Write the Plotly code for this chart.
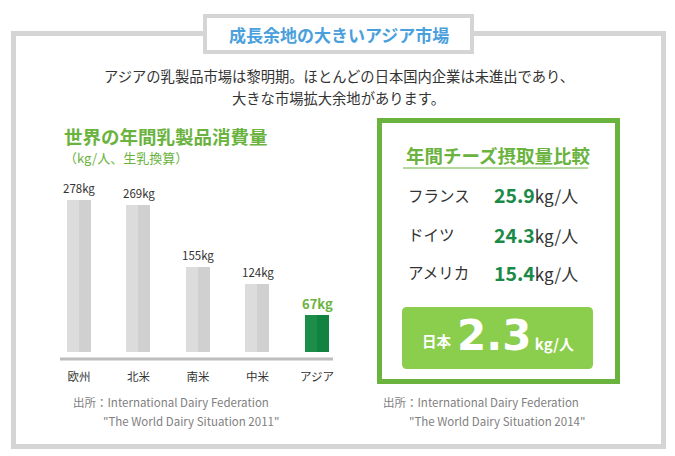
import plotly.graph_objects as go

# ---------------- data ----------------
regions = ["欧州", "北米", "南米", "中米", "アジア"]
consumption = [278, 269, 155, 124, 67]
consumption_labels = ["278kg", "269kg", "155kg", "124kg", "67kg"]

cheese_countries = ["フランス", "ドイツ", "アメリカ"]
cheese_values = [25.9, 24.3, 15.4]
japan_value = 2.3

W, H = 675, 456
FONT = "Noto Sans CJK JP"
GREEN = "#6ab33e"
DKGREEN = "#1b8a47"
LTGREEN = "#8bcd4d"
GRAY_FRAME = "#d5d5d5"
BLUE = "#4aa0dc"


def px(x):
    return x / W


def py(y):
    return 1 - y / H


fig = go.Figure()

# two-tone bars: full bar (light) + right half (darker)
light = ["#dcdcdc"] * 4 + ["#1c8e49"]
dark = ["#d0d0d0"] * 4 + ["#128240"]
fig.add_trace(go.Bar(x=regions, y=consumption, width=0.40, offset=-0.20,
                     marker=dict(color=light, line=dict(width=0)),
                     hoverinfo="skip", showlegend=False))
fig.add_trace(go.Bar(x=regions, y=consumption, width=0.20, offset=0.0,
                     marker=dict(color=dark, line=dict(width=0)),
                     hoverinfo="skip", showlegend=False))

# value labels above bars
for i, (r, v, lab) in enumerate(zip(regions, consumption, consumption_labels)):
    is_asia = (r == "アジア")
    fig.add_annotation(x=r, y=v, xref="x", yref="y", text=("<b>%s</b>" % lab) if is_asia else lab,
                       showarrow=False, yanchor="middle", yshift=12,
                       font=dict(family=FONT, size=13 if is_asia else 11.5,
                                 color=GREEN if is_asia else "#333333"))

# bar area domain: centers at 79..317 px, slot 59.5 px; y=0 at 352px, scale 0.547 px/unit
x_dom = [px(49.25), px(346.75)]
y_dom = [py(352), py(180)]
yr_max = (352 - 180) / 0.547

shapes = []
# outer gray frame
shapes.append(dict(type="rect", xref="paper", yref="paper",
                   x0=px(13.5), x1=px(663.5), y0=py(446.5), y1=py(33.5),
                   line=dict(color=GRAY_FRAME, width=5), fillcolor="rgba(0,0,0,0)", layer="below"))
# title box
shapes.append(dict(type="rect", xref="paper", yref="paper",
                   x0=px(205), x1=px(472), y0=py(52), y1=py(16),
                   line=dict(color=GRAY_FRAME, width=4), fillcolor="white", layer="below"))
# bar baseline
shapes.append(dict(type="line", xref="paper", yref="paper",
                   x0=px(60), x1=px(333), y0=py(359), y1=py(359),
                   line=dict(color="#bdbdbd", width=3)))
# right green box
shapes.append(dict(type="rect", xref="paper", yref="paper",
                   x0=px(379.5), x1=px(617.5), y0=py(381.5), y1=py(120.5),
                   line=dict(color=GREEN, width=5), fillcolor="white", layer="below"))
# header underline
shapes.append(dict(type="line", xref="paper", yref="paper",
                   x0=px(403), x1=px(588), y0=py(168), y1=py(168),
                   line=dict(color=GREEN, width=1.2)))
# Japan rounded box
x0, x1, y0, y1, r = 402, 593, 307, 369, 5
path = (f"M {px(x0+r)} {py(y0)} L {px(x1-r)} {py(y0)} Q {px(x1)} {py(y0)} {px(x1)} {py(y0+r)} "
        f"L {px(x1)} {py(y1-r)} Q {px(x1)} {py(y1)} {px(x1-r)} {py(y1)} "
        f"L {px(x0+r)} {py(y1)} Q {px(x0)} {py(y1)} {px(x0)} {py(y1-r)} "
        f"L {px(x0)} {py(y0+r)} Q {px(x0)} {py(y0)} {px(x0+r)} {py(y0)} Z")
shapes.append(dict(type="path", xref="paper", yref="paper", path=path,
                   fillcolor=LTGREEN, line=dict(width=0), layer="above"))


def ann(x, y, text, size, color, xanchor="left", bold=False):
    fig.add_annotation(x=px(x), y=py(y), xref="paper", yref="paper",
                       text=("<b>%s</b>" % text) if bold else text,
                       showarrow=False, xanchor=xanchor, yanchor="middle",
                       font=dict(family=FONT, size=size, color=color))


# title
ann(338.5, 35, "成長余地の大きいアジア市場", 17, BLUE, "center", True)
# subtitle
ann(338.5, 76, "アジアの乳製品市場は黎明期。ほとんどの日本国内企業は未進出であり、", 14.3, "#333333", "center")
ann(338.5, 97, "大きな市場拡大余地があります。", 14.3, "#333333", "center")
# left chart title
ann(62, 136, "世界の年間乳製品消費量", 18.5, GREEN, "left", True)
ann(62, 157, "（kg/人、生乳換算）", 13, GREEN, "left")
# sources
ann(71, 402, "出所：International Dairy Federation", 11.5, "#808080")
ann(101, 421, "\"The World Dairy Situation 2011\"", 11.5, "#808080")
ann(381, 402, "出所：International Dairy Federation", 11.5, "#808080")
ann(407, 421, "\"The World Dairy Situation 2014\"", 11.5, "#808080")

# right box
ann(498, 155, "年間チーズ摂取量比較", 18.5, GREEN, "center", True)
row_y = [195, 234, 272]
for name, val, yy in zip(cheese_countries, cheese_values, row_y):
    ann(406, yy, name, 15.5, "#333333")
    fig.add_annotation(x=px(492), y=py(yy), xref="paper", yref="paper", showarrow=False,
                       xanchor="left", yanchor="middle",
                       text=f"<b><span style='color:{DKGREEN};font-size:19.5px'>{val:.1f}</span></b>"
                            f"<span style='font-size:17px'>kg/人</span>",
                       font=dict(family=FONT, size=16, color="#333333"))
ann(437, 340, "日本", 14.5, "white", "center", True)
fig.add_annotation(x=px(455), y=py(335), xref="paper", yref="paper", showarrow=False,
                   xanchor="left", yanchor="middle",
                   text=f"<b><span style=\"font-family:'DejaVu Sans';font-size:42px\">{japan_value:.1f}</span></b>"
                        f"<b><span style='font-size:15px'> kg/人</span></b>",
                   font=dict(family=FONT, size=15, color="white"))

fig.update_layout(
    width=W, height=H, margin=dict(l=0, r=0, t=0, b=0),
    paper_bgcolor="white", plot_bgcolor="rgba(0,0,0,0)",
    barmode="overlay", bargap=0, showlegend=False,
    shapes=shapes,
    xaxis=dict(domain=x_dom, range=[-0.5, 4.5], type="category",
               showgrid=False, zeroline=False, showline=False, ticks="",
               tickfont=dict(family=FONT, size=11.5, color="#333333"),
               ticklabelstandoff=16, fixedrange=True),
    yaxis=dict(domain=y_dom, range=[0, yr_max], showgrid=False, zeroline=False,
               showline=False, showticklabels=False, ticks="", fixedrange=True),
)

fig.write_html("out.html", config={"displayModeBar": False},
               post_script="document.body.style.margin='0';document.body.style.padding='0';")
